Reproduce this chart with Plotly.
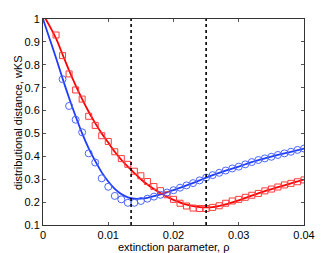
import plotly.graph_objects as go

# Marker data
rho_sq = [0.002, 0.003, 0.004, 0.005, 0.006, 0.007, 0.008, 0.009, 0.010, 0.011,
          0.012, 0.013, 0.014, 0.015, 0.016, 0.017, 0.018, 0.019, 0.020, 0.021,
          0.022, 0.023, 0.024, 0.025, 0.026, 0.027, 0.028, 0.029, 0.030, 0.031,
          0.032, 0.033, 0.034, 0.035, 0.036, 0.037, 0.038, 0.039, 0.040]
wks_sq = [0.93, 0.84, 0.76, 0.69, 0.65, 0.575, 0.535, 0.49, 0.465, 0.42,
          0.39, 0.365, 0.335, 0.315, 0.29, 0.268, 0.25, 0.232, 0.212, 0.195,
          0.183, 0.174, 0.172, 0.172, 0.177, 0.184, 0.195, 0.205, 0.212, 0.221,
          0.230, 0.238, 0.249, 0.257, 0.266, 0.275, 0.282, 0.289, 0.297]

rho_ci = [0.003, 0.004, 0.005, 0.006, 0.007, 0.008, 0.009, 0.010, 0.011,
          0.012, 0.013, 0.014, 0.015, 0.016, 0.017, 0.018, 0.019, 0.020, 0.021,
          0.022, 0.023, 0.024, 0.025, 0.026, 0.027, 0.028, 0.029, 0.030, 0.031,
          0.032, 0.033, 0.034, 0.035, 0.036, 0.037, 0.038, 0.039, 0.040]
wks_ci = [0.737, 0.62, 0.56, 0.505, 0.413, 0.373, 0.304, 0.267, 0.227,
          0.212, 0.197, 0.197, 0.205, 0.215, 0.224, 0.232, 0.242, 0.252, 0.263,
          0.273, 0.283, 0.295, 0.307, 0.318, 0.328, 0.338, 0.347, 0.355, 0.365,
          0.375, 0.384, 0.391, 0.398, 0.406, 0.413, 0.420, 0.428, 0.434]

# Fitted curves
rho_fit = [0.000, 0.001, 0.002, 0.003, 0.004, 0.005, 0.006, 0.007, 0.008, 0.009,
           0.010, 0.011, 0.012, 0.013, 0.014, 0.015, 0.016, 0.017, 0.018, 0.019,
           0.020, 0.022, 0.024, 0.025, 0.026, 0.028, 0.030, 0.032, 0.034, 0.036,
           0.038, 0.040]
red_fit = [1.02, 0.97, 0.915, 0.845, 0.775, 0.71, 0.65, 0.595, 0.545, 0.50,
           0.46, 0.42, 0.385, 0.355, 0.327, 0.30, 0.277, 0.257, 0.24, 0.224,
           0.21, 0.189, 0.178, 0.177, 0.178, 0.19, 0.208, 0.228, 0.248, 0.265,
           0.282, 0.298]
blue_fit = [1.0, 0.915, 0.83, 0.74, 0.655, 0.575, 0.50, 0.435, 0.38, 0.33,
            0.29, 0.258, 0.235, 0.221, 0.215, 0.215, 0.219, 0.226, 0.234, 0.243,
            0.252, 0.273, 0.295, 0.307, 0.318, 0.338, 0.355, 0.375, 0.391, 0.406,
            0.420, 0.434]

vlines = [0.0135, 0.025]

x_ticks = [0, 0.01, 0.02, 0.03, 0.04]
x_ticktext = ["0", "0.01", "0.02", "0.03", "0.04"]
y_ticks = [0.1, 0.2, 0.3, 0.4, 0.5, 0.6, 0.7, 0.8, 0.9, 1.0]
y_ticktext = ["0.1", "0.2", "0.3", "0.4", "0.5", "0.6", "0.7", "0.8", "0.9", "1"]

RED = "#ff0000"
BLUE = "#1f3cff"
BLUE_M = "#4a66ff"
RED_M = "#ff3b3b"
FONT = "Liberation Sans, Arial"

fig = go.Figure()
fig.add_trace(go.Scatter(x=rho_fit, y=red_fit, mode="lines", line=dict(color=RED, width=1.8, shape="spline", smoothing=0.8), showlegend=False))
fig.add_trace(go.Scatter(x=rho_fit, y=blue_fit, mode="lines", line=dict(color=BLUE, width=1.8, shape="spline", smoothing=0.8), showlegend=False))
fig.add_trace(go.Scatter(x=rho_sq, y=wks_sq, mode="markers",
                         marker=dict(symbol="square-open", size=6, color=RED_M, line=dict(width=1)), showlegend=False))
fig.add_trace(go.Scatter(x=rho_ci, y=wks_ci, mode="markers",
                         marker=dict(symbol="circle-open", size=7, color=BLUE_M, line=dict(width=1)), showlegend=False))

for v in vlines:
    fig.add_shape(type="line", x0=v, x1=v, y0=0.1, y1=1, xref="x", yref="y",
                  line=dict(color="black", width=1.6, dash="3px,3px"))

axis_common = dict(showgrid=False, zeroline=False, showline=True, linecolor="#333333", linewidth=1,
                   mirror="ticks", ticks="inside", ticklen=3, tickcolor="#555555", automargin=False,
                   tickfont=dict(family=FONT, size=11, color="black"))

fig.update_xaxes(range=[0, 0.04], tickvals=x_ticks, ticktext=x_ticktext, **axis_common)
fig.update_yaxes(range=[0.1, 1], tickvals=y_ticks, ticktext=y_ticktext, **axis_common)

fig.add_annotation(text="extinction parameter, ρ", xref="paper", yref="paper",
                   x=0.5, y=-0.106, xanchor="center", yanchor="middle", showarrow=False,
                   font=dict(family=FONT, size=11, color="black"))
fig.add_annotation(text="distributional distance, wKS", xref="paper", yref="paper",
                   x=-0.0958, y=0.5, xanchor="center", yanchor="middle", textangle=-90, showarrow=False,
                   font=dict(family=FONT, size=11, color="black"))

fig.update_layout(width=336, height=253, margin=dict(l=43, r=32, t=19, b=28),
                  paper_bgcolor="white", plot_bgcolor="white", hovermode=False)

fig.write_html("out.html", config={"displayModeBar": False, "staticPlot": True},
               post_script="document.body.style.margin='0';document.body.style.padding='0';")
